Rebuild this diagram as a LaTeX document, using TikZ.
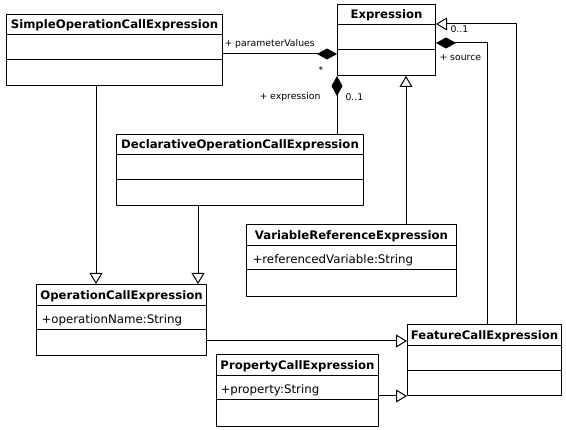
\documentclass[tikz,border=0pt]{standalone}
\usepackage{fontspec}
\setmainfont{DejaVu Sans}
\usetikzlibrary{arrows.meta}
\begin{document}
\begin{tikzpicture}[>=latex,line join=bevel,
  classbox/.style={draw,rectangle,inner sep=0pt,anchor=north west,minimum height=71bp},
  classname/.style={inner sep=0pt,anchor=base,font=\bfseries\fontsize{11.7bp}{13bp}\selectfont},
  attrtext/.style={inner sep=0pt,anchor=base west,font=\fontsize{11.8bp}{13bp}\selectfont},
  rolelabel/.style={inner sep=0pt,anchor=base west,font=\fontsize{9.3bp}{11bp}\selectfont},
  gen/.style={-{Triangle[open,length=11bp,width=13bp]}},
  comp/.style={-{Diamond[length=20bp,width=11bp]}},
]
  \pgfsetlinewidth{1bp}
  \useasboundingbox (0bp,0bp) rectangle (566bp,430bp);
%%
\pgfsetcolor{black}
  % Node: simple
\begin{scope}
  \node[classbox,minimum width=216bp] (simple) at (6bp,416bp) {};
  \draw ([yshift=-21bp]simple.north west) -- ([yshift=-21bp]simple.north east);
  \draw ([yshift=-46bp]simple.north west) -- ([yshift=-46bp]simple.north east);
  \node[classname] (simple-name) at ([yshift=-15bp]simple.north) {SimpleOperationCallExpression};
\end{scope}
  % Node: expr
\begin{scope}
  \node[classbox,minimum width=98bp] (expr) at (337bp,426bp) {};
  \draw ([yshift=-21bp]expr.north west) -- ([yshift=-21bp]expr.north east);
  \draw ([yshift=-46bp]expr.north west) -- ([yshift=-46bp]expr.north east);
  \node[classname] (expr-name) at ([yshift=-15bp]expr.north) {Expression};
\end{scope}
  % Node: decl
\begin{scope}
  \node[classbox,minimum width=247bp] (decl) at (116bp,296bp) {};
  \draw ([yshift=-21bp]decl.north west) -- ([yshift=-21bp]decl.north east);
  \draw ([yshift=-46bp]decl.north west) -- ([yshift=-46bp]decl.north east);
  \node[classname] (decl-name) at ([yshift=-15bp]decl.north) {DeclarativeOperationCallExpression};
\end{scope}
  % Node: varref
\begin{scope}
  \node[classbox,minimum width=210bp,minimum height=72bp] (varref) at (246bp,206bp) {};
  \draw ([yshift=-22bp]varref.north west) -- ([yshift=-22bp]varref.north east);
  \draw ([yshift=-46bp]varref.north west) -- ([yshift=-46bp]varref.north east);
  \node[classname] (varref-name) at ([yshift=-15.5bp]varref.north) {VariableReferenceExpression};
  \node[attrtext] (varref-attr) at ([xshift=6bp,yshift=-39.3bp]varref.north west) {+referencedVariable:String};
\end{scope}
  % Node: opcall
\begin{scope}
  \node[classbox,minimum width=170bp] (opcall) at (36bp,146bp) {};
  \draw ([yshift=-22bp]opcall.north west) -- ([yshift=-22bp]opcall.north east);
  \draw ([yshift=-46bp]opcall.north west) -- ([yshift=-46bp]opcall.north east);
  \node[classname] (opcall-name) at ([yshift=-15.5bp]opcall.north) {OperationCallExpression};
  \node[attrtext] (opcall-attr) at ([xshift=5bp,yshift=-39.3bp]opcall.north west) {+operationName:String};
\end{scope}
  % Node: feature
\begin{scope}
  \node[classbox,minimum width=154bp] (feature) at (407bp,106bp) {};
  \draw ([yshift=-22bp]feature.north west) -- ([yshift=-22bp]feature.north east);
  \draw ([yshift=-47bp]feature.north west) -- ([yshift=-47bp]feature.north east);
  \node[classname] (feature-name) at ([yshift=-15.5bp]feature.north) {FeatureCallExpression};
\end{scope}
  % Node: prop
\begin{scope}
  \node[classbox,minimum width=162bp,minimum height=72bp] (prop) at (216bp,76bp) {};
  \draw ([yshift=-22bp]prop.north west) -- ([yshift=-22bp]prop.north east);
  \draw ([yshift=-46bp]prop.north west) -- ([yshift=-46bp]prop.north east);
  \node[classname] (prop-name) at ([yshift=-15.5bp]prop.north) {PropertyCallExpression};
  \node[attrtext] (prop-attr) at ([xshift=4bp,yshift=-39.3bp]prop.north west) {+property:String};
\end{scope}
  % Edge: simple -> opcall
  \draw [gen] ([xshift=90bp]simple.south west) -- ([xshift=90bp]simple.south west |- opcall.north);
  % Edge: decl -> opcall
  \draw [gen] ([xshift=82bp]decl.south west) -- ([xshift=82bp]decl.south west |- opcall.north);
  % Edge: varref -> expr
  \draw [gen] ([xshift=160bp]varref.north west) -- ([xshift=160bp]varref.north west |- expr.south);
  % Edge: opcall -> feature
  \draw [gen] ([yshift=15bp]opcall.south east) -- ([yshift=15bp]opcall.south east -| feature.west);
  % Edge: prop -> feature
  \draw [gen] (feature.south west -| prop.east) -- (feature.south west);
  % Edge: feature -> expr
  \draw [gen] ([xshift=109bp]feature.north west) |- ([yshift=-20bp]expr.north east);
  % Edge: feature -> expr (source)
  \draw [comp] ([xshift=80bp]feature.north west) |- ([yshift=-39bp]expr.north east);
  % Edge: simple -> expr (parameterValues)
  \draw [comp] ([yshift=-40bp]simple.north east) -- ([yshift=-40bp]simple.north east -| expr.west);
  % Edge: decl -> expr (expression)
  \draw [comp] (decl.north -| expr.west) -- (expr.south west);
  % Labels
  \node[rolelabel] (param-role) at (224bp,383bp) {+ parameterValues};
  \node[rolelabel,anchor=base] (param-mult) at (321bp,356bp) {*};
  \node[rolelabel] (expr-role) at (259bp,330bp) {+ expression};
  \node[rolelabel] (expr-mult) at (345bp,329bp) {0..1};
  \node[rolelabel] (source-mult) at (450bp,397bp) {0..1};
  \node[rolelabel] (source-role) at (439bp,369.3bp) {+ source};
%
\end{tikzpicture}
\end{document}
